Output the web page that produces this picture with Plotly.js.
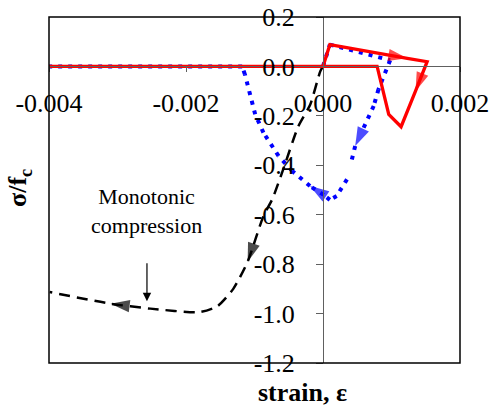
<!DOCTYPE html>
<html>
<head>
<meta charset="utf-8">
<script src="https://cdn.plot.ly/plotly-3.0.1.min.js"></script>
<style>
svg text { font-family: 'Times New Roman', 'Liberation Serif', serif !important; }
</style>
</head>
<body style="margin:0;background:#fff">
<div id="chart" style="width:494px;height:407px"></div>
<script>
// Monotonic compression (black dashed)
const monoX = [0, -0.00004, -0.000186, -0.00036, -0.000595, -0.00074, -0.00087, -0.0011, -0.00131, -0.00154, -0.0018, -0.00252, -0.0031, -0.00399];
const monoY = [0, -0.02, -0.154, -0.242, -0.428, -0.537, -0.606, -0.79, -0.90, -0.97, -0.994, -0.98, -0.96, -0.913];
const monoArrows = [7, 12];

// Blue dotted cycle
const blueX = [0, 0.0001, 0.00098, 0.00093, 0.00081, 0.00074, 0.00062, 0.00047, 0.00035, 0.0002, 0.0001, 0.00001, -0.00019, -0.00045, -0.00065, -0.00087, -0.00099, -0.00106, -0.00114, -0.00118, -0.004];
const blueY = [0, 0.088, 0.025, -0.012, -0.093, -0.16, -0.234, -0.322, -0.457, -0.524, -0.54, -0.52, -0.484, -0.423, -0.362, -0.268, -0.194, -0.113, -0.032, 0, 0];
const blueArrows = [7, 12];

// Red solid cycle
const redX = [0, 0.0001, 0.00123, 0.00152, 0.00135, 0.00114, 0.00096, 0.00079, -0.004];
const redY = [0, 0.088, 0.033, 0.019, -0.10, -0.244, -0.194, 0, 0];
const redArrows = [2, 4];

const xTicks = [-0.004, -0.002, 0, 0.002];
const xTickText = ['-0.004', '-0.002', '0.000', '0.002'];
const yTicks = [-1.2, -1.0, -0.8, -0.6, -0.4, -0.2, 0.0, 0.2];
const yTickText = ['-1.2', '-1.0', '-0.8', '-0.6', '-0.4', '-0.2', '0.0', '0.2'];

function sizes(n, idx, s) { return Array.from({length: n}, (_, i) => idx.includes(i) ? s : 0); }

const serif = 'Times New Roman';

const traces = [
  {x: monoX, y: monoY, mode: 'lines+markers', line: {color: '#000', width: 2.5, dash: '11px,7px', shape: 'spline', smoothing: 0.6},
   marker: {symbol: 'arrow', angleref: 'previous', size: sizes(monoX.length, monoArrows, 20), color: '#000', line: {width: 0}}},
  {x: blueX, y: blueY, mode: 'lines+markers', line: {color: '#0000ff', width: 4, dash: '4px,6px'},
   marker: {symbol: 'arrow', angleref: 'previous', size: sizes(blueX.length, blueArrows, 20), color: '#0000ff', line: {width: 0}}},
  {x: redX, y: redY, mode: 'lines+markers', line: {color: '#ff0000', width: 3.3},
   marker: {symbol: 'arrow', angleref: 'previous', size: sizes(redX.length, redArrows, 20), color: '#ff0000', line: {width: 0}}}
];

const layout = {
  width: 494, height: 407,
  margin: {l: 49, r: 34, t: 17, b: 44, pad: 0},
  paper_bgcolor: '#fff', plot_bgcolor: '#fff',
  showlegend: false,
  font: {family: serif, size: 26, color: '#000'},
  xaxis: {
    range: [-0.004, 0.002], anchor: 'free', position: 1.2/1.4,
    tickmode: 'array', tickvals: xTicks, ticktext: xTickText,
    showgrid: false, zeroline: false, showline: true, linecolor: '#606060', linewidth: 1,
    ticks: 'outside', ticklen: 5, tickcolor: '#606060', tickwidth: 1,
    ticklabelstandoff: 8,
    tickfont: {family: serif, size: 26, color: '#000'}
  },
  yaxis: {
    range: [-1.2, 0.2], anchor: 'free', position: 4/6,
    tickmode: 'array', tickvals: yTicks, ticktext: yTickText,
    showgrid: false, zeroline: false, showline: true, linecolor: '#606060', linewidth: 1,
    ticks: 'outside', ticklen: 7, tickcolor: '#606060', tickwidth: 1,
    ticklabelstandoff: 16,
    tickfont: {family: serif, size: 26, color: '#000'}
  },
  shapes: [
    {type: 'rect', xref: 'paper', yref: 'paper', x0: 0, x1: 1, y0: 0, y1: 1, line: {color: '#000', width: 1.5}}
  ],
  annotations: [
    {xref: 'paper', yref: 'paper', x: 0.616, y: -0.084, text: '<b>strain, ε</b>', showarrow: false,
     font: {family: serif, size: 26, color: '#000'}, xanchor: 'center', yanchor: 'middle'},
    {xref: 'paper', yref: 'paper', x: -0.073, y: 0.506, text: '<b>σ/f<sub>c</sub></b>', showarrow: false, textangle: -90,
     font: {family: serif, size: 26, color: '#000'}, xanchor: 'center', yanchor: 'middle'},
    {x: -0.00257, y: -0.586, text: 'Monotonic<br>compression', showarrow: false,
     font: {family: serif, size: 22, color: '#000'}, xanchor: 'center', yanchor: 'middle'},
    {x: -0.00257, y: -0.95, ax: 0, ay: -54, text: ' ', showarrow: true, arrowhead: 2, arrowsize: 1.4, arrowwidth: 1.2, arrowcolor: '#000'}
  ]
};

Plotly.newPlot('chart', traces, layout, {displayModeBar: false, staticPlot: true});
</script>
</body>
</html>
